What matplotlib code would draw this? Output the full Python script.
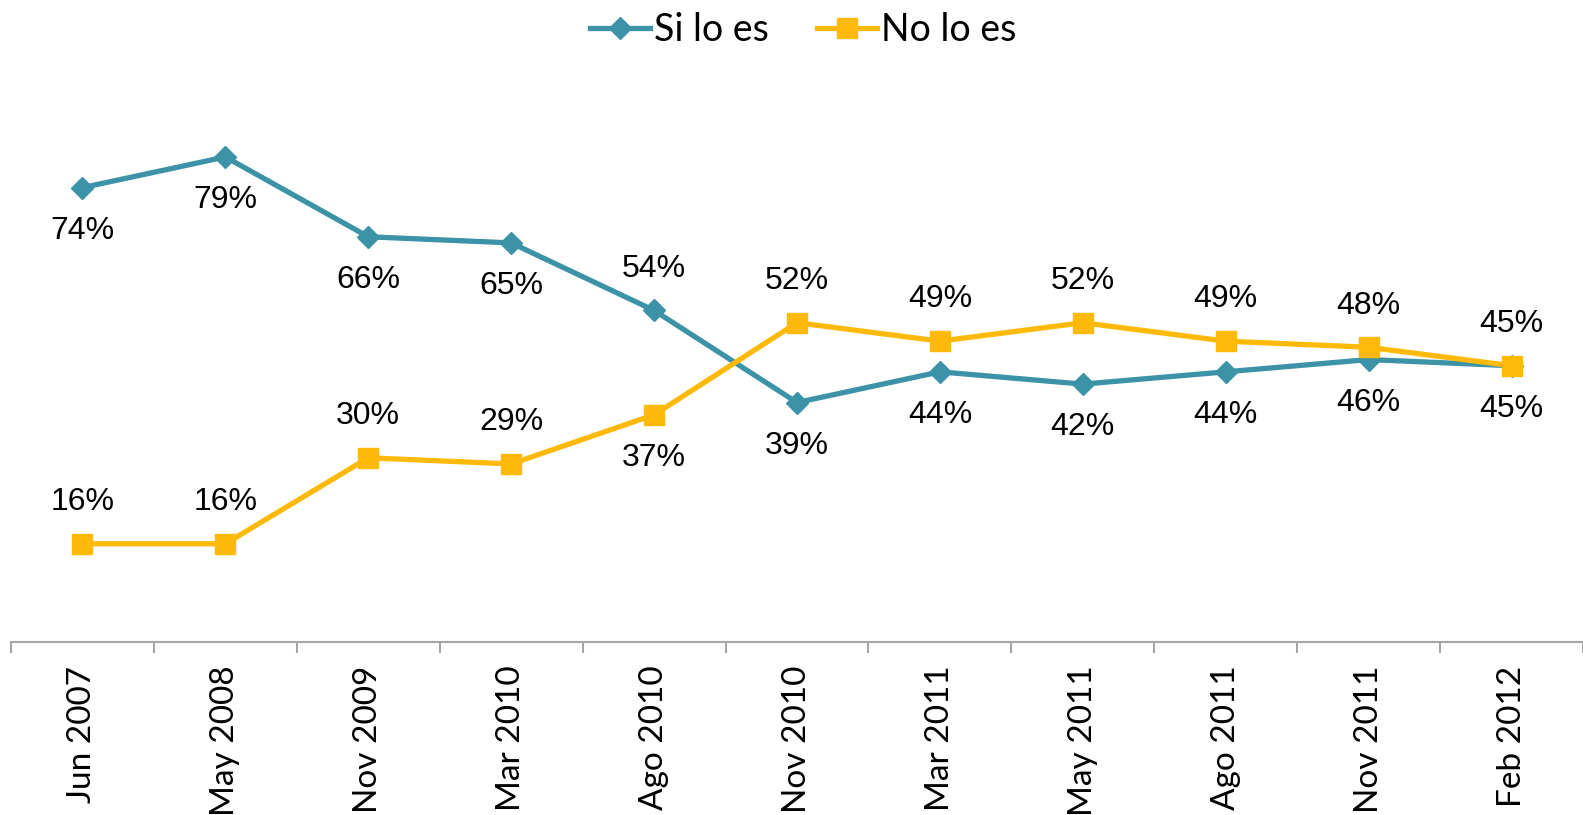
import matplotlib
matplotlib.use("Agg")
import matplotlib.pyplot as plt

# data
DATES = ["Jun 2007", "May 2008", "Nov 2009", "Mar 2010", "Ago 2010", "Nov 2010",
         "Mar 2011", "May 2011", "Ago 2011", "Nov 2011", "Feb 2012"]
SI_LO_ES = [74, 79, 66, 65, 54, 39, 44, 42, 44, 46, 45]
NO_LO_ES = [16, 16, 30, 29, 37, 52, 49, 52, 49, 48, 45]
SI_POS = ["below", "below", "below", "below", "above", "below", "below", "below", "below", "below", "below"]
NO_POS = ["above", "above", "above", "above", "below", "above", "above", "above", "above", "above", "above"]

TEAL = "#3C93A7"
GOLD = "#FFB909"
TICK_FONT = "Lato"
LABEL_FONT = "Liberation Sans"

fig = plt.figure(figsize=(15.83, 8.15), dpi=100)
ax = fig.add_axes([11 / 1583, (815 - 642) / 815, 1 - 11 / 1583, (642 - 28) / 815])

x = list(range(len(DATES)))
ax.plot(x, SI_LO_ES, color=TEAL, lw=3.8, marker="D", ms=11, label="Si lo es")
ax.plot(x, NO_LO_ES, color=GOLD, lw=3.8, marker="s", ms=14, label="No lo es")


def put_labels(vals, where):
    for i, (v, w) in enumerate(zip(vals, where)):
        off = 30 if w == "above" else -31
        ax.annotate(f"{v}%", (i, v), xytext=(0, off), textcoords="offset points",
                    ha="center", va="center", fontsize=23, family=LABEL_FONT)


put_labels(SI_LO_ES, SI_POS)
put_labels(NO_LO_ES, NO_POS)

ax.set_xlim(-0.5, len(DATES) - 0.5)
ax.set_ylim(0, 100)
for s in ["top", "right", "left"]:
    ax.spines[s].set_visible(False)
ax.spines["bottom"].set_color("#A6A6A6")
ax.spines["bottom"].set_linewidth(1.5)
ax.set_yticks([])

ax.set_xticks(x)
ax.set_xticklabels(DATES, rotation=90, fontsize=24, family=TICK_FONT, va="top", ha="center")
ax.tick_params(axis="x", which="major", length=0, pad=17)
ax.set_xticks([i - 0.5 for i in range(len(DATES) + 1)], minor=True)
ax.tick_params(axis="x", which="minor", length=8, width=1.5, color="#A6A6A6")

fig.legend(loc="center", bbox_to_anchor=(803 / 1583, 1 - 30 / 815), ncol=2, frameon=False,
           prop={"family": TICK_FONT, "size": 27}, handlelength=1.6, handletextpad=0.1,
           columnspacing=1.3)

fig.savefig("out.png", dpi=100)
